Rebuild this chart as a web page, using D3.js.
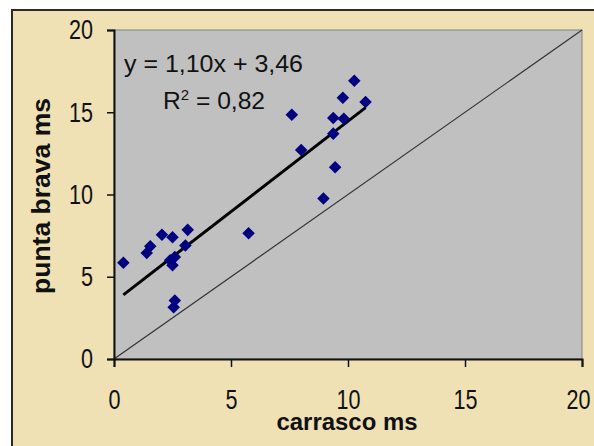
<!DOCTYPE html>
<html>
<head>
<meta charset="utf-8">
<script src="https://cdn.jsdelivr.net/npm/d3@7"></script>
<style>
  body { margin: 0; background: #fff; }
  text { font-family: Arial, "Liberation Sans", sans-serif; fill: #111; }
</style>
</head>
<body>
<div id="chart"></div>
<script>
// carrasco ms (x) vs punta brava ms (y)
const carrasco = [0.40, 1.40, 1.55, 2.05, 2.50, 3.15, 3.05, 2.40, 2.50, 2.60, 2.60, 2.55,
                  5.75, 7.60, 8.00, 8.95, 9.37, 9.82, 9.37, 9.45, 9.78, 10.27, 10.75];
const puntaBrava = [5.85, 6.45, 6.85, 7.55, 7.40, 7.85, 6.90, 6.00, 5.70, 6.20, 3.55, 3.15,
                    7.65, 14.85, 12.70, 9.75, 14.65, 14.60, 13.70, 11.65, 15.88, 16.92, 15.62];
const xTicks = [0, 5, 10, 15, 20];
const yTicks = [0, 5, 10, 15, 20];
const slope = 1.10;
const intercept = 3.46;
const eqLabel = 'y = 1,10x + 3,46';
const r2Label = '0,82';

class ScatterPlot {
    constructor(_config) {
        this.config = {
            parentElement: _config.parentElement,
            containerWidth: _config.containerWidth || 594,
            containerHeight: _config.containerHeight || 446,
            margin: _config.margin || {top: 30, right: 12, bottom: 87, left: 114}
        };
        this.data = carrasco.map((c, i) => ({x: c, y: puntaBrava[i]}));
        this.initVis();
    }

    initVis() {
        let vis = this;
        vis.width = vis.config.containerWidth - vis.config.margin.left - vis.config.margin.right;
        vis.height = vis.config.containerHeight - vis.config.margin.top - vis.config.margin.bottom;

        vis.svg = d3.select(vis.config.parentElement).append('svg')
            .attr('width', vis.config.containerWidth)
            .attr('height', vis.config.containerHeight);

        // chart area frame
        vis.svg.append('rect')
            .attr('x', 12).attr('y', 10)
            .attr('width', vis.config.containerWidth).attr('height', vis.config.containerHeight)
            .attr('fill', '#f0e1b5')
            .attr('stroke', '#2a2a2a').attr('stroke-width', 2);

        vis.chart = vis.svg.append('g')
            .attr('transform', `translate(${vis.config.margin.left},${vis.config.margin.top})`);

        vis.chart.append('rect')
            .attr('width', vis.width).attr('height', vis.height)
            .attr('fill', '#c0c0c0')
            .attr('stroke', '#808080').attr('stroke-width', 1);

        vis.xScale = d3.scaleLinear().domain([0, 20]).range([0, vis.width]);
        vis.yScale = d3.scaleLinear().domain([0, 20]).range([vis.height, 0]);

        vis.xAxis = d3.axisBottom(vis.xScale).tickValues(xTicks).tickSize(8).tickPadding(22);
        vis.yAxis = d3.axisLeft(vis.yScale).tickValues(yTicks).tickSize(7).tickPadding(14);

        vis.renderVis();
    }

    renderVis() {
        let vis = this;
        const x = vis.xScale, y = vis.yScale;

        // y = x reference line
        vis.chart.append('line')
            .attr('x1', x(0)).attr('y1', y(0))
            .attr('x2', x(20)).attr('y2', y(20))
            .attr('stroke', '#333').attr('stroke-width', 1.2);

        // trend line over data range
        const [xmin, xmax] = d3.extent(vis.data, d => d.x);
        vis.chart.append('line')
            .attr('x1', x(xmin)).attr('y1', y(slope * xmin + intercept))
            .attr('x2', x(xmax)).attr('y2', y(slope * xmax + intercept))
            .attr('stroke', '#000').attr('stroke-width', 3);

        const diamond = d3.symbol().type(d3.symbolDiamond2).size(100);
        vis.chart.selectAll('.dot')
            .data(vis.data)
            .join('path')
            .attr('class', 'dot')
            .attr('d', diamond)
            .attr('transform', d => `translate(${x(d.x)},${y(d.y)})`)
            .attr('fill', '#000080');

        vis.xAxisG = vis.chart.append('g')
            .attr('transform', `translate(0,${vis.height})`)
            .call(vis.xAxis);
        vis.yAxisG = vis.chart.append('g').call(vis.yAxis);

        [vis.xAxisG, vis.yAxisG].forEach(g => {
            g.select('.domain').attr('stroke', '#111').attr('stroke-width', 2);
            g.selectAll('.tick line').attr('stroke', '#111').attr('stroke-width', 1.5);
            g.selectAll('.tick text')
                .attr('font-size', 28)
                .attr('fill', '#111')
                .attr('textLength', function () { return this.textContent.length * 12; })
                .attr('lengthAdjust', 'spacingAndGlyphs');
        });
        // last x label sits against the frame edge
        vis.xAxisG.selectAll('.tick text').filter(d => d === 20).attr('dx', -4);

        // regression label
        vis.chart.append('text')
            .attr('x', 10).attr('y', 42)
            .attr('font-size', 23)
            .attr('textLength', 179).attr('lengthAdjust', 'spacingAndGlyphs')
            .text(eqLabel);
        const r2 = vis.chart.append('text')
            .attr('x', 49).attr('y', 79)
            .attr('font-size', 23)
            .attr('textLength', 102).attr('lengthAdjust', 'spacingAndGlyphs');
        r2.append('tspan').text('R');
        r2.append('tspan').attr('font-size', 14).attr('dy', -9).text('2');
        r2.append('tspan').attr('dy', 9).text(' = ' + r2Label);

        // axis titles
        vis.svg.append('text')
            .attr('x', 347).attr('y', 430)
            .attr('text-anchor', 'middle')
            .attr('font-size', 24).attr('font-weight', 'bold')
            .attr('textLength', 141).attr('lengthAdjust', 'spacingAndGlyphs')
            .text('carrasco ms');
        vis.svg.append('text')
            .attr('transform', 'translate(50,196) rotate(-90)')
            .attr('text-anchor', 'middle')
            .attr('font-size', 25).attr('font-weight', 'bold')
            .attr('textLength', 196).attr('lengthAdjust', 'spacingAndGlyphs')
            .text('punta brava ms');
    }
}

new ScatterPlot({parentElement: '#chart'});
</script>
</body>
</html>
